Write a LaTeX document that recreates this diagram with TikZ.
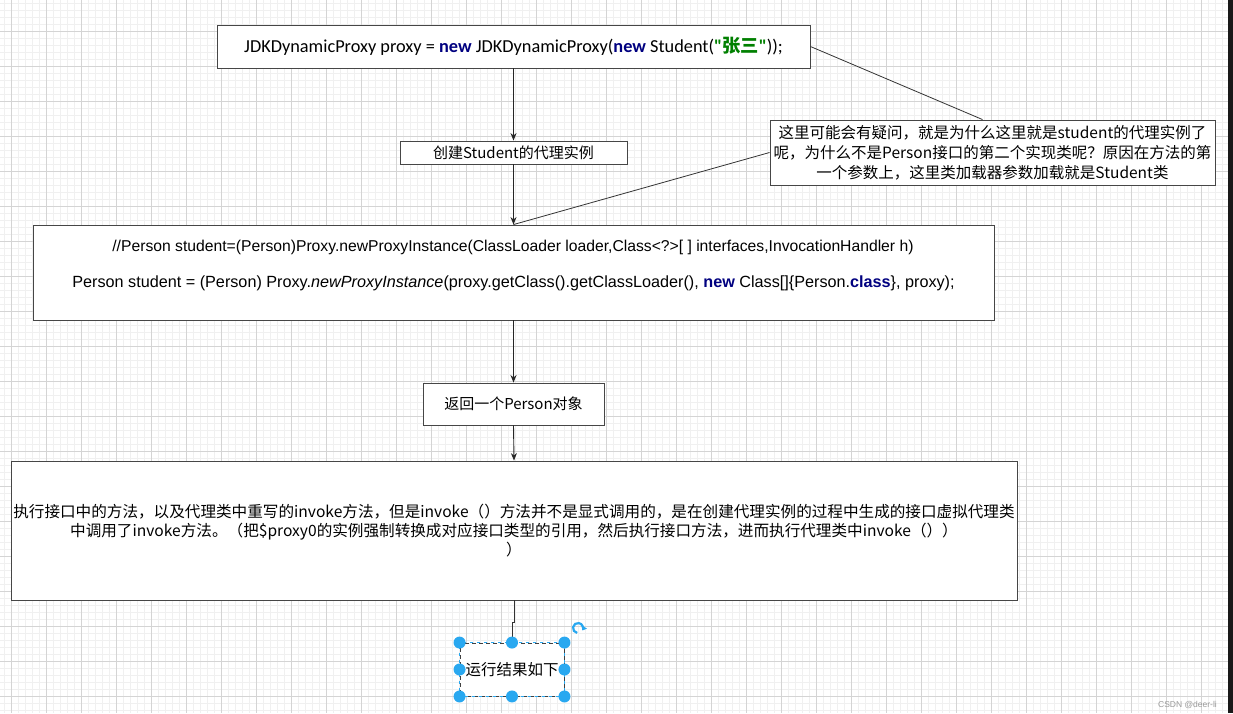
\documentclass[tikz,border=0pt]{standalone}
\usepackage{fontspec}
\setmainfont{Liberation Sans}
\newfontfamily\cjk{Noto Sans CJK SC}
\newfontfamily\codefont{Carlito}
\usetikzlibrary{arrows.meta,calc}
\definecolor{kw}{RGB}{0,0,128}
\definecolor{str}{RGB}{0,128,0}
\definecolor{minorgrid}{RGB}{240,240,240}
\definecolor{majorgrid}{RGB}{212,212,212}
\definecolor{selblue}{RGB}{41,168,240}
\definecolor{edge}{RGB}{70,70,70}
\begin{document}
\begin{tikzpicture}[x=1pt,y=-1pt,
  box/.style={draw=edge, line width=0.9pt, fill=white, inner sep=0pt},
  flow/.style={draw=black!85, line width=0.9pt, -{Stealth[length=7.5pt,width=6pt]}},
  plain/.style={draw=black!80, line width=0.8pt},
  cjktext/.style={font=\cjk\fontsize{15}{19.5}\selectfont, align=center},
  handle/.style={circle, fill=selblue, minimum size=12pt, inner sep=0pt}]
\useasboundingbox (0,0) rectangle (1233,713);
\fill[white] (0,0) rectangle (1233,713);
% background grid
\foreach \i in {0,...,175} \draw[minorgrid, line width=0.8pt] (4+7*\i,0) -- (4+7*\i,713);
\foreach \j in {0,...,101} \draw[minorgrid, line width=0.8pt] (0,3+7*\j) -- (1233,3+7*\j);
\foreach \i in {0,...,34} \draw[majorgrid, line width=0.8pt] (11+35*\i,0) -- (11+35*\i,713);
\foreach \j in {0,...,19} \draw[majorgrid, line width=0.8pt] (0,31+35*\j) -- (1233,31+35*\j);
\fill[black!90] (1228,0) rectangle (1233,713);

% flow boxes
\node[box, minimum width=593pt, minimum height=43pt] (b1) at (513.5,46.5)
  {\codefont\fontsize{18.3}{20}\selectfont JDKDynamicProxy proxy = \textbf{\color{kw}new} JDKDynamicProxy(\textbf{\color{kw}new} Student(\textcolor{str}{\textbf{"{\cjk 张三}"}}));};
\node[box, minimum width=227pt, minimum height=23pt, cjktext] (b2) at (513.5,152.5) {创建Student的代理实例};
\node[box, minimum width=961pt, minimum height=95pt] (b3) at (513.5,272.5) {};
\node[font=\fontsize{15.7}{18}\selectfont, inner sep=0pt] (b3a) at (513,247) {//Person student=(Person)Proxy.newProxyInstance(ClassLoader loader,Class<?>[ ] interfaces,InvocationHandler h)};
\node[font=\fontsize{16.2}{18}\selectfont, inner sep=0pt] (b3b) at (513.5,283) {Person student = (Person) Proxy.\textit{newProxyInstance}(proxy.getClass().getClassLoader(), \textbf{\color{kw}new} Class[]\{Person.\textbf{\color{kw}class}\}, proxy);};
\node[box, minimum width=181pt, minimum height=42pt, cjktext] (b4) at (513.5,404) {返回一个Person对象};
\node[box, minimum width=1006pt, minimum height=139pt, cjktext, font=\cjk\fontsize{15.6}{19}\selectfont] (b5) at (514,530.5)
  {执行接口中的方法，以及代理类中重写的invoke方法，但是invoke（）方法并不是显式调用的，是在创建代理实例的过程中生成的接口虚拟代理类\\
   中调用了invoke方法。（把\$proxy0的实例强制转换成对应接口类型的引用，然后执行接口方法，进而执行代理类中invoke（））\\
   ）};

% side note
\node[box, minimum width=445pt, minimum height=65pt, cjktext, font=\cjk\fontsize{15.5}{20}\selectfont] (note) at (992.5,152.5)
  {这里可能会有疑问，就是为什么这里就是student的代理实例了\\
   呢，为什么不是Person接口的第二个实现类呢？原因在方法的第\\
   一个参数上，这里类加载器参数加载就是Student类};

% selected result box
\node[minimum width=104pt, minimum height=53pt, inner sep=0pt, fill=white, draw=black!75, line width=0.9pt, dash pattern=on 4pt off 3pt, cjktext, font=\cjk\fontsize{15.5}{19}\selectfont] (b6) at (512,669.5) {运行结果如下};
\draw[selblue, line width=0.9pt, dash pattern=on 3pt off 4pt, dash phase=4pt] (b6.north west) rectangle (b6.south east);

% connectors
\draw[flow] (b1.south) -- (b2.north);
\draw[flow] (b2.south) -- (b3.north);
\draw[flow] (b3.south) -- (b4.north);
\draw[flow] (b4.south) -- (b5.north);
\draw[plain] (b1.east) -- ([xshift=-10pt]note.north);
\draw[plain] (note.west) -- (b3.north);
\draw[plain] (b5.south) -- ++(0,22) -| (b6.north);

% selection handles
\foreach \a/\n in {north west/1, north/2, north east/3, west/4, east/5, south west/6, south/7, south east/8}
  \node[handle] (h\n) at (b6.\a) {};
\coordinate (rot) at (578,628);
\draw[selblue, line width=2.2pt, -{Triangle[length=4pt,width=6pt]}] ([shift={(100:5)}]rot) arc[start angle=100, end angle=390, radius=5];

% watermark
\node[anchor=south east, text=black!40, font=\fontsize{8.5}{9}\selectfont, inner sep=0pt] (mark) at (1217,709) {CSDN @deer-li};
\end{tikzpicture}
\end{document}
